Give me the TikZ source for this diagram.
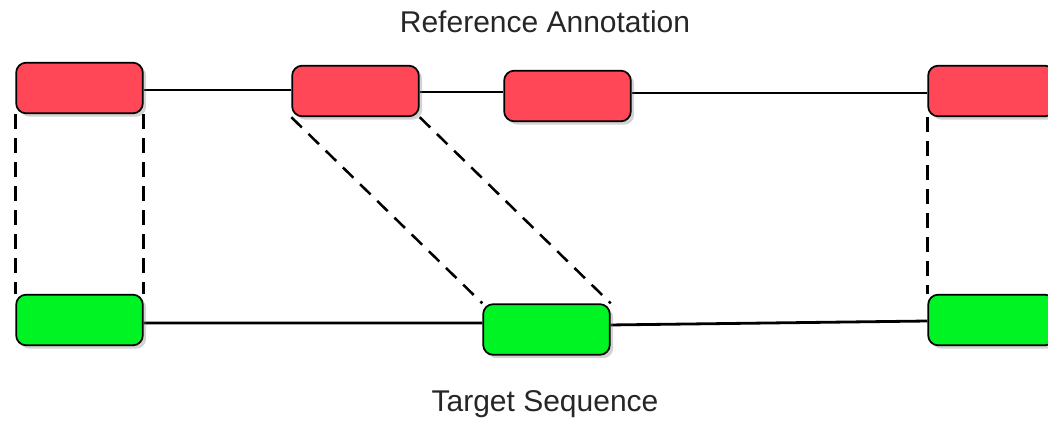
\documentclass[tikz,border=0pt]{standalone}
\usepackage{fontspec}
\setmainfont{Liberation Sans}
\usetikzlibrary{shadows,backgrounds}
\definecolor{refred}{HTML}{FF4757}
\definecolor{tgtgreen}{HTML}{00F322}
\tikzset{
  box/.style={draw=black, line width=1.3pt, rounded corners=7.5pt,
    minimum width=95pt, minimum height=38pt, inner sep=0pt,
    drop shadow={shadow xshift=2.5pt, shadow yshift=-2.5pt, opacity=0.35, fill=gray}},
  redbox/.style={box, fill=refred},
  greenbox/.style={box, fill=tgtgreen},
  seqline/.style={draw=black, line width=2.1pt},
  mapline/.style={draw=black, line width=1.9pt, dash pattern=on 11pt off 7pt},
  lbl/.style={font=\fontsize{22.5}{27}\selectfont, text=black!85}
}
\begin{document}
\begin{tikzpicture}[x=0.75pt, y=-0.75pt]
\useasboundingbox (0,0) rectangle (1048,425);
\clip (0,0) rectangle (1048,425);

\node[lbl] (reflbl) at (545,22) {Reference Annotation};
\node[lbl] (tgtlbl) at (545,404) {Target Sequence};

\node[redbox] (R1) at (79.5,88) {};
\node[redbox] (R2) at (355.5,91) {};
\node[redbox] (R3) at (567.5,96) {};
\node[redbox] (R4) at (991.5,91) {};

\node[greenbox] (G1) at (79.5,320) {};
\node[greenbox] (G2) at (546.5,329.5) {};
\node[greenbox] (G4) at (991.5,320) {};

\begin{scope}[on background layer]
\draw[seqline] ([yshift=-1.5pt]R1.east) -- ([yshift=0.75pt]R2.west);
\draw[seqline] ([yshift=-0.75pt]R2.east) -- ([yshift=3pt]R3.west);
\draw[seqline] ([yshift=2.25pt]R3.east) -- ([yshift=-1.5pt]R4.west);
\draw[seqline] ([yshift=-2.25pt]G1.east) -- ([yshift=4.9pt]G2.west);
\draw[seqline] ([yshift=3.4pt]G2.east) -- ([yshift=-0.75pt]G4.west);

\draw[mapline] (R1.south west) -- (G1.north west);
\draw[mapline] (R1.south east) -- (G1.north east);
\draw[mapline] (R2.south west) -- (G2.north west);
\draw[mapline] (R2.south east) -- (G2.north east);
\draw[mapline] (R4.south west) -- (G4.north west);
\end{scope}
\end{tikzpicture}
\end{document}
